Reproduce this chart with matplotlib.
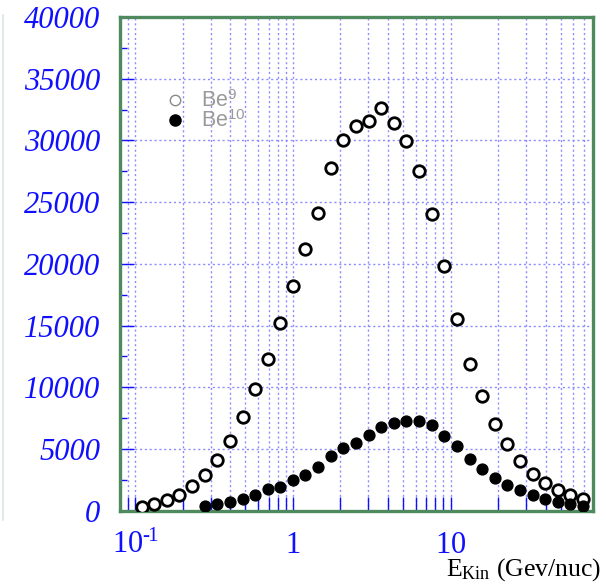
import matplotlib
matplotlib.use("Agg")
import matplotlib.pyplot as plt
from matplotlib.lines import Line2D
from matplotlib.ticker import FixedLocator, LogLocator, NullFormatter, MultipleLocator

plt.rcParams['mathtext.fontset'] = 'custom'
plt.rcParams['mathtext.rm'] = 'Liberation Serif'
plt.rcParams['mathtext.it'] = 'Liberation Serif:italic'
plt.rcParams['mathtext.sf'] = 'Liberation Sans'

# Kinetic energy per nucleon (GeV/nuc)
energy = [0.110, 0.132, 0.158, 0.190, 0.229, 0.275, 0.331, 0.398, 0.479, 0.575,
          0.692, 0.832, 1.00, 1.20, 1.45, 1.74, 2.09, 2.51, 3.02, 3.63,
          4.37, 5.25, 6.31, 7.59, 9.12, 10.96, 13.2, 15.8, 19.1, 22.9,
          27.5, 33.1, 39.8, 47.9, 57.5, 69.2]

be9 = [320, 520, 870, 1270, 2000, 2920, 4110, 5670, 7560, 9830,
       12260, 15230, 18220, 21220, 24090, 27760, 30030, 31190, 31570, 32620,
       31430, 29920, 27540, 24030, 19850, 15540, 11880, 9270, 7050, 5400,
       4000, 3000, 2220, 1680, 1270, 950]

energy10 = energy[5:]
be10 = [380, 520, 680, 950, 1250, 1730, 1940, 2510, 2920, 3520,
        4410, 5080, 5460, 6110, 6800, 7100, 7290, 7240, 6970, 6050,
        5240, 4180, 3400, 2650, 2080, 1650, 1270, 920, 680, 540, 380]

xticks = [0.1, 1, 10]
xticklabels = ["$\\mathit{10}^{\\mathit{\u2010}\\!\\mathit{1}}$", r"$\mathit{1}$", r"$\mathit{10}$"]
yticks = [0, 5000, 10000, 15000, 20000, 25000, 30000, 35000, 40000]

blue = '#1010ff'
gridblue = '#8c8cff'
green = '#4f8a5e'

fig = plt.figure(figsize=(6.06, 5.87), dpi=100)
ax = fig.add_axes([120/606, 1-510.7/587, 473/606, (510.7-17)/587])

ax.plot(energy, be9, linestyle='none', marker='o', markersize=8.3,
        markerfacecolor='white', markeredgecolor='black', markeredgewidth=2.0,
        zorder=3)
ax.plot(energy10, be10, linestyle='none', marker='o', markersize=7.8,
        markerfacecolor='black', markeredgecolor='black', zorder=3)

ax.set_xscale('log')
ax.set_xlim(0.08, 80)
ax.set_ylim(0, 40000)

ax.xaxis.set_major_locator(FixedLocator(xticks))
ax.set_xticklabels(xticklabels)
ax.xaxis.set_minor_locator(LogLocator(base=10, subs=[2, 3, 4, 5, 6, 7, 8, 9], numticks=20))
ax.xaxis.set_minor_formatter(NullFormatter())
ax.set_yticks(yticks)
ax.set_yticklabels([str(v) for v in yticks])
ax.yaxis.set_minor_locator(MultipleLocator(2500))

for lab in ax.get_yticklabels():
    lab.set_fontfamily('Liberation Serif')
    lab.set_fontstyle('italic')
ax.tick_params(axis='both', which='both', direction='in', color=blue,
               labelcolor=blue, labelsize=22, width=1.0)
ax.tick_params(axis='y', which='major', length=10, pad=14)
ax.tick_params(axis='y', which='minor', length=5)
ax.tick_params(axis='x', which='both', length=10, pad=14)

ax.grid(True, which='major', axis='both', color=gridblue, linestyle=(0, (1.5, 2)), linewidth=1.0)
ax.grid(True, which='minor', axis='x', color=gridblue, linestyle=(0, (1.5, 2)), linewidth=1.0)
ax.set_axisbelow(True)

for s in ax.spines.values():
    s.set_color(green)
    s.set_linewidth(2.4)

handles = [Line2D([], [], linestyle='none', marker='o', markersize=7.5,
                  markerfacecolor='white', markeredgecolor='#8a8a8a', markeredgewidth=1.0),
           Line2D([], [], linestyle='none', marker='o', markersize=8,
                  markerfacecolor='black', markeredgecolor='black')]
leg = ax.legend(handles, [r"Be$^{\mathsf{9}}$", r"Be$^{\mathsf{10}}$"],
                loc='upper left', bbox_to_anchor=(0.096, 0.851), frameon=False,
                handlelength=0.9, handletextpad=0.75, borderpad=0, borderaxespad=0,
                labelspacing=-0.05, prop={'family': 'Liberation Sans', 'size': 15.5})
for t in leg.get_texts():
    t.set_color('#9a9a9a')

fig.text(446/606, 1-576/587, r"E$_{\mathrm{Kin}}$ (Gev/nuc)", fontsize=18.5,
         family='Liberation Serif', color='black', ha='left', va='baseline')

fig.add_artist(Line2D([3/606, 3/606], [1-520/587, 1-15/587], color='#dce6df', linewidth=1.2))

fig.savefig('out.png', dpi=100)
